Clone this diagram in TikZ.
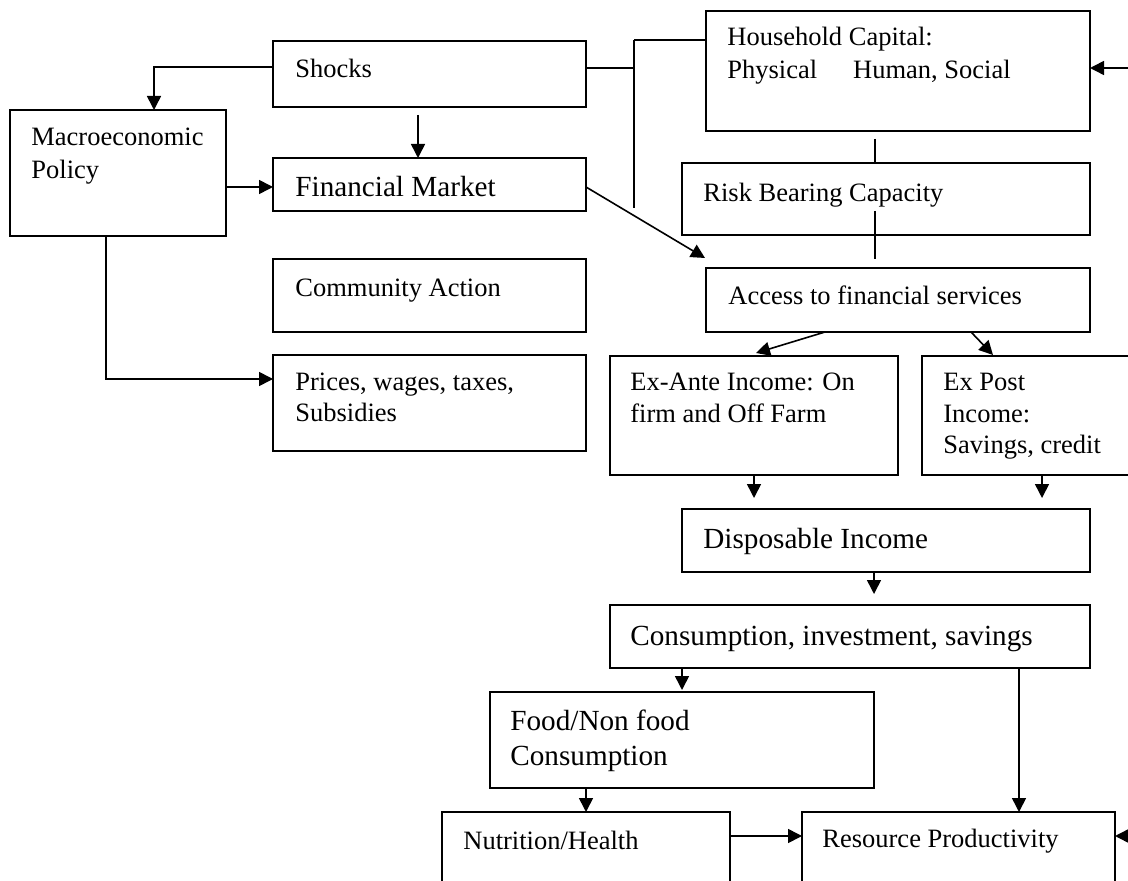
\documentclass[tikz,border=0pt]{standalone}
\usepackage{fontspec}
\setmainfont{Liberation Serif}
\usetikzlibrary{arrows.meta,calc,fit}
\newcommand{\txtlines}[1]{\begin{tabular}[t]{@{}l@{}}#1\end{tabular}}
\begin{document}
\begin{tikzpicture}[x=0.5pt,y=-0.5pt,
  box/.style={draw, line width=0.9pt, inner sep=0pt, outer sep=0pt},
  arr/.style={line width=0.8pt, -{Triangle[length=7pt,width=7pt]}},
  ln/.style={line width=0.8pt},
  st/.style={inner sep=0pt, anchor=base west, font=\fontsize{13.25pt}{16pt}\selectfont},
  bt/.style={inner sep=0pt, anchor=base west, font=\fontsize{14.6pt}{17.5pt}\selectfont}]
\fill[white] (0,0) rectangle (1128,881);
\useasboundingbox (0,0) rectangle (1128,881);
\clip (0,0) rectangle (1128,881);

% boxes
\node[box, fit={(273,41) (586,107)}] (shocks) {};
\node[box, fit={(10,110) (226,236)}] (macro) {};
\node[box, fit={(273,158) (586,211)}] (fin) {};
\node[box, fit={(273,259) (586,332)}] (comm) {};
\node[box, fit={(273,355) (586,451)}] (prices) {};
\node[box, fit={(706,11) (1090,131)}] (hc) {};
\node[box, fit={(682,163) (1090,235)}] (risk) {};
\node[box, fit={(706,268) (1090,332)}] (access) {};
\node[box, fit={(610,356) (898,475)}] (exante) {};
\node[box, fit={(922,356) (1160,475)}] (expost) {};
\node[box, fit={(682,509) (1090,572)}] (disp) {};
\node[box, fit={(610,605) (1090,668)}] (cons) {};
\node[box, fit={(490,692) (874,788)}] (food) {};
\node[box, fit={(442,812) (730,900)}] (nut) {};
\node[box, fit={(802,812) (1115,900)}] (res) {};

% texts
\node[st] (shocksT) at (295,78) {Shocks};
\node[st, font=\fontsize{13.25pt}{16.5pt}\selectfont] (macroT) at (31,146) {\txtlines{Macroeconomic\\Policy}};
\node[bt] (finT) at (295,197) {Financial Market};
\node[st] (commT) at (295,297) {Community Action};
\node[st, font=\fontsize{13.25pt}{15.5pt}\selectfont] (pricesT) at (295,391) {\txtlines{Prices, wages, taxes,\\Subsidies}};
\node[st, font=\fontsize{13.25pt}{16.5pt}\selectfont] (hcT) at (727,46) {\txtlines{Household Capital:\\Physical\hspace{18pt}Human, Social}};
\node[st] (riskT) at (703,202) {Risk Bearing Capacity};
\node[st] (accessT) at (728,305) {Access to financial services};
\node[st] (exanteT) at (630,391) {\txtlines{Ex-Ante Income: On\\firm and Off Farm}};
\node[st, font=\fontsize{13.25pt}{15.75pt}\selectfont] (expostT) at (943,391) {\txtlines{Ex Post\\Income:\\Savings, credit}};
\node[bt] (dispT) at (703,548) {Disposable Income};
\node[bt] (consT) at (630,645) {Consumption, investment, savings};
\node[bt] (foodT) at (510,730) {\txtlines{Food/Non food\\Consumption}};
\node[st] (nutT) at (463,849) {Nutrition/Health};
\node[st] (resT) at (822,847) {Resource Productivity};

% helper coordinates
\coordinate (busTop) at (634,40);
\coordinate (busBot) at (634,208);
\coordinate (rin1) at (1128,68);
\coordinate (rin2) at (1128,836);
\coordinate (finIn) at ($(fin.west)+(0,2.5)$);
\coordinate (prIn) at ($(prices.west)+(0,-24)$);

% connectors
\draw[arr] ($(shocks.west)+(0,-7)$) -| ($(macro.north)+(36,0)$);
\draw[arr] ($(shocks.south)+(-11.5,8)$) -- ($(fin.north)+(-11.5,0)$);
\draw[arr] (macro.east |- finIn) -- (finIn);
\draw[arr] ($(macro.south)+(-12,0)$) |- (prIn);

\draw[ln] ($(shocks.east)+(0,-6)$) coordinate (s1) -- (s1 -| busTop);
\draw[ln] (busTop) -- (busBot);
\draw[ln] (busTop) -- (busTop -| hc.west);
\draw[arr] (rin1) -- (rin1 -| hc.east);

\draw[ln] ($(hc.south)+(-23,8)$) coordinate (h1) -- (h1 |- risk.north);
\draw[ln] ($(risk.south)+(-11,-24)$) -- ($(access.north)+(-23,-9)$);
\draw[arr] ($(fin.east)+(0,2.5)$) -- ($(access.north west)+(-1,-10)$);

\draw[arr] ($(access.south)+(-73,0)$) -- ($(exante.north)+(2,-3)$);
\draw[arr] ($(access.south)+(73,0)$) -- ($(expost.north west)+(71,-1)$);

\draw[arr, shorten >=5.5pt] (exante.south) -- (exante.south |- disp.north);
\draw[arr, shorten >=5.5pt] ($(expost.south west)+(120,0)$) coordinate (e2) -- (e2 |- disp.north);
\draw[arr, shorten >=5.5pt] ($(disp.south)+(-12,0)$) coordinate (d1) -- (d1 |- cons.north);
\draw[arr, shorten >=1pt] ($(cons.south west)+(72,0)$) coordinate (c1) -- (c1 |- food.north);
\draw[arr] ($(cons.south west)+(409,0)$) coordinate (c2) -- (c2 |- res.north);
\draw[arr] ($(food.south west)+(96,0)$) coordinate (f1) -- (f1 |- nut.north);
\draw[arr] ($(nut.north east)+(0,24)$) coordinate (n1) -- (n1 -| res.west);
\draw[arr] (rin2) -- (rin2 -| res.east);
\end{tikzpicture}
\end{document}
